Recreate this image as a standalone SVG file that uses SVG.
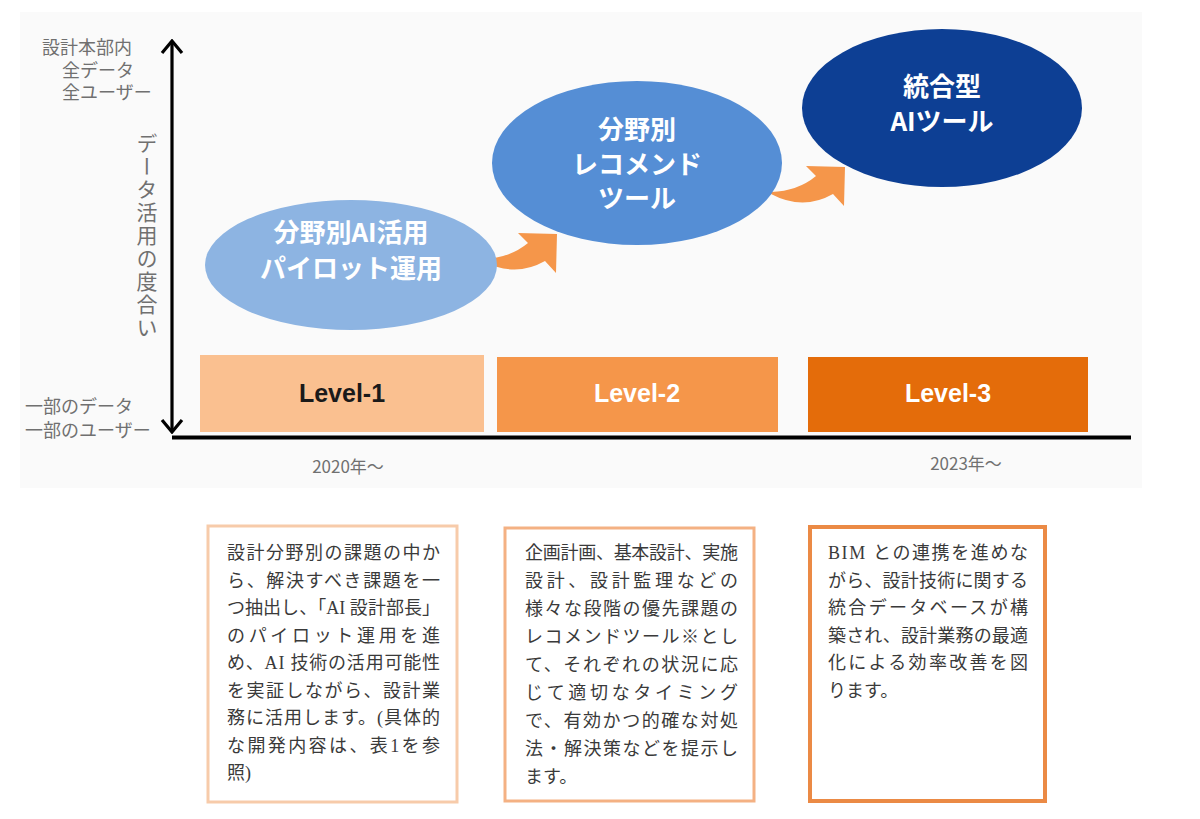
<svg xmlns="http://www.w3.org/2000/svg" width="1200" height="819" viewBox="0 0 1200 819">
<style>
.lbl{font-family:"Liberation Serif","Noto Sans CJK JP",serif;font-size:18px;fill:#707070}
.vt{font-family:"Noto Sans CJK JP",sans-serif;font-size:21px;fill:#707070;writing-mode:vertical-rl;letter-spacing:2px}
.ell{font-family:"Noto Sans CJK JP",sans-serif;font-weight:bold;fill:#ffffff;text-anchor:middle}
.lv{font-family:"Liberation Sans","Noto Sans CJK JP",sans-serif;font-weight:bold;font-size:25px;text-anchor:middle}
.yr{font-family:"Noto Sans CJK JP",sans-serif;font-size:17px;fill:#707070;text-anchor:middle}
.body{font-family:"Liberation Serif","Noto Sans CJK JP",serif;font-size:18px;fill:#3a3a3a}
.oarrow{fill:#F5964A}
</style>
<defs>
<marker id="chev" viewBox="0 0 16 24" refX="14" refY="12" markerWidth="16" markerHeight="24" markerUnits="userSpaceOnUse" orient="auto-start-reverse">
<path d="M2,2 L14,12 L2,22" fill="none" stroke="#000" stroke-width="3.2"/>
</marker>
</defs>
<rect x="0" y="0" width="1200" height="819" fill="#ffffff"/>
<rect x="20" y="12" width="1122" height="476" fill="#fafafa"/>

<g id="axis-labels">
<text class="lbl" x="42" y="54">設計本部内</text>
<text class="lbl" x="62" y="77">全データ</text>
<text class="lbl" x="62" y="99">全ユーザー</text>
<text class="lbl" x="25" y="413">一部のデータ</text>
<text class="lbl" x="25" y="437">一部のユーザー</text>
<text class="vt" x="147" y="133">データ活用の度合い</text>
</g>

<g id="connectors">
<line x1="172" y1="41" x2="172" y2="432" stroke="#000" stroke-width="3.2" marker-start="url(#chev)" marker-end="url(#chev)"/>
<line x1="172" y1="437.5" x2="1131" y2="437.5" stroke="#000" stroke-width="4"/>
<path class="oarrow" d="M483,259 Q510,258 528,243 L518,233 L557,234 L556,273 L545,261 Q515,278 483,261 Z"/>
<path class="oarrow" transform="translate(288,-67)" d="M483,259 Q510,258 528,243 L518,233 L557,234 L556,273 L545,261 Q515,278 483,261 Z"/>
</g>

<g id="node-pilot">
<ellipse cx="351" cy="265" rx="146" ry="65" fill="#8DB4E2"/>
<text class="ell" font-size="26" x="351" y="242">分野別AI活用</text>
<text class="ell" font-size="26" x="351" y="278">パイロット運用</text>
</g>

<g id="node-recommend">
<ellipse cx="637" cy="163" rx="145" ry="82" fill="#558ED5"/>
<text class="ell" font-size="26" x="637" y="139">分野別</text>
<text class="ell" font-size="26" x="637" y="174">レコメンド</text>
<text class="ell" font-size="26" x="637" y="208">ツール</text>
</g>

<g id="node-integrated">
<ellipse cx="942" cy="108" rx="140" ry="79" fill="#0D3F94"/>
<text class="ell" font-size="26" x="942" y="96">統合型</text>
<text class="ell" font-size="26" x="942" y="131">AIツール</text>
</g>

<g id="level-1">
<rect x="200" y="355" width="284" height="77" fill="#FAC090"/>
<text class="lv" x="342" y="402" fill="#1a1a1a">Level-1</text>
</g>
<g id="level-2">
<rect x="497" y="357" width="281" height="75" fill="#F5964A"/>
<text class="lv" x="637" y="402" fill="#ffffff">Level-2</text>
</g>
<g id="level-3">
<rect x="808" y="357" width="280" height="75" fill="#E46C0A"/>
<text class="lv" x="948" y="402" fill="#ffffff">Level-3</text>
</g>

<g id="years">
<text class="yr" x="348" y="473">2020年～</text>
<text class="yr" x="966" y="470">2023年～</text>
</g>

<g id="box-1">
<rect x="208" y="526" width="249" height="276" fill="#ffffff" stroke="#F7CBAA" stroke-width="3"/>
<text class="body" x="227" y="559" textLength="213" lengthAdjust="spacing">設計分野別の課題の中か</text>
<text class="body" x="227" y="586.5" textLength="213" lengthAdjust="spacing">ら、解決すべき課題を一</text>
<text class="body" x="227" y="614" textLength="213" lengthAdjust="spacing">つ抽出し、「AI 設計部長」</text>
<text class="body" x="227" y="641.5" textLength="213" lengthAdjust="spacing">のパイロット運用を進</text>
<text class="body" x="227" y="669" textLength="213" lengthAdjust="spacing">め、AI 技術の活用可能性</text>
<text class="body" x="227" y="696.5" textLength="213" lengthAdjust="spacing">を実証しながら、設計業</text>
<text class="body" x="227" y="724" textLength="213" lengthAdjust="spacing">務に活用します。(具体的</text>
<text class="body" x="227" y="751.5" textLength="213" lengthAdjust="spacing">な開発内容は、表1を参</text>
<text class="body" x="227" y="779">照)</text>
</g>

<g id="box-2">
<rect x="505" y="528" width="249" height="273" fill="#ffffff" stroke="#F4B183" stroke-width="3"/>
<text class="body" x="525" y="559" textLength="213" lengthAdjust="spacing">企画計画、基本設計、実施</text>
<text class="body" x="525" y="587" textLength="213" lengthAdjust="spacing">設計、設計監理などの</text>
<text class="body" x="525" y="615" textLength="213" lengthAdjust="spacing">様々な段階の優先課題の</text>
<text class="body" x="525" y="643" textLength="213" lengthAdjust="spacing">レコメンドツール※とし</text>
<text class="body" x="525" y="671" textLength="213" lengthAdjust="spacing">て、それぞれの状況に応</text>
<text class="body" x="525" y="699" textLength="213" lengthAdjust="spacing">じて適切なタイミング</text>
<text class="body" x="525" y="727" textLength="213" lengthAdjust="spacing">で、有効かつ的確な対処</text>
<text class="body" x="525" y="755" textLength="213" lengthAdjust="spacing">法・解決策などを提示し</text>
<text class="body" x="525" y="783">ます。</text>
</g>

<g id="box-3">
<rect x="810" y="527" width="235" height="274" fill="#ffffff" stroke="#EB8A45" stroke-width="4"/>
<text class="body" x="828" y="559" textLength="200" lengthAdjust="spacing">BIM との連携を進めな</text>
<text class="body" x="828" y="586.5" textLength="200" lengthAdjust="spacing">がら、設計技術に関する</text>
<text class="body" x="828" y="614" textLength="200" lengthAdjust="spacing">統合データベースが構</text>
<text class="body" x="828" y="641.5" textLength="200" lengthAdjust="spacing">築され、設計業務の最適</text>
<text class="body" x="828" y="669" textLength="200" lengthAdjust="spacing">化による効率改善を図</text>
<text class="body" x="828" y="696.5">ります。</text>
</g>
</svg>
